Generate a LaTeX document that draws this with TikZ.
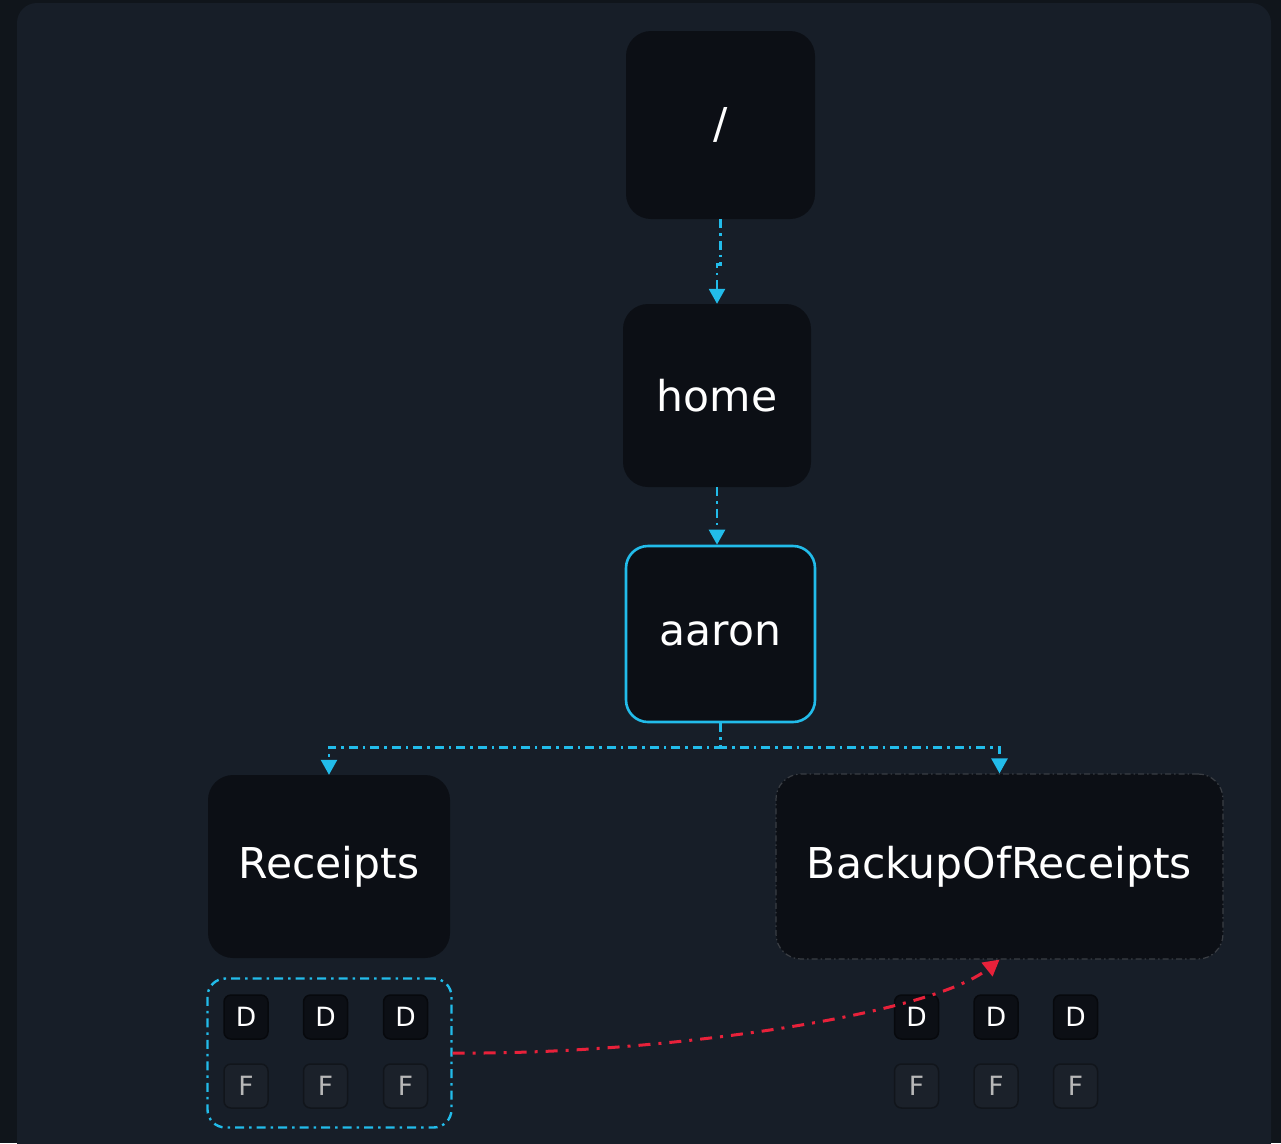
\documentclass[tikz,border=0pt]{standalone}
\usepackage{fontspec}
\setmainfont{DejaVu Sans}
\usetikzlibrary{arrows.meta,calc}
\definecolor{outerbg}{HTML}{10151B}
\definecolor{panelbg}{HTML}{171E28}
\definecolor{nodefill}{HTML}{0C0F15}
\definecolor{cyanline}{HTML}{22BCEA}
\definecolor{redline}{HTML}{E8213A}
\definecolor{ffill}{HTML}{1B212A}
\definecolor{fborder}{HTML}{11151B}
\definecolor{dborder}{HTML}{07090D}
\definecolor{ftext}{HTML}{B8B8B8}
\definecolor{grayborder}{HTML}{3A3E44}
\tikzset{
  x=1pt,y=-1pt,
  bignode/.style={fill=nodefill,draw=none,rounded corners=25pt,text=white,
    font=\fontsize{42.5}{48}\selectfont,inner sep=0pt,align=center},
  dbox/.style={fill=nodefill,draw=dborder,line width=1.5pt,rounded corners=7pt,
    minimum width=44pt,minimum height=44pt,inner sep=0pt,text=white,
    font=\fontsize{26.5}{30}\selectfont},
  fbox/.style={fill=ffill,draw=fborder,line width=1.5pt,rounded corners=7pt,
    minimum width=44pt,minimum height=44pt,inner sep=0pt,text=ftext,
    font=\fontsize{26.5}{30}\selectfont},
  cyanflow/.style={draw=cyanline,line width=2.6pt,
    dash pattern=on 9pt off 5pt on 2.5pt off 5pt,
    -{Triangle[width=16pt,length=15pt]}},
  redflow/.style={draw=redline,line width=3pt,
    dash pattern=on 12pt off 8pt on 3pt off 8pt,
    -{Triangle[width=17pt,length=16pt]}},
}
\begin{document}
\begin{tikzpicture}
\useasboundingbox (0,0) rectangle (1281,1143);
\fill[outerbg] (0,0) rectangle (1281,1143);
\fill[panelbg,rounded corners=20pt] (17,3) rectangle (1271,1163);

\node[bignode,minimum width=189pt,minimum height=188pt] (slash) at (720.5,125) {/};
\node[bignode,minimum width=188pt,minimum height=183pt] (home) at (717,395.5) {home};
\node[bignode,minimum width=189pt,minimum height=176pt,draw=cyanline,line width=2.6pt,rounded corners=22pt] (aaron) at (720.5,634) {aaron};
\node[bignode,minimum width=242pt,minimum height=183pt] (receipts) at (329,866.5) {Receipts};
\node[bignode,minimum width=447pt,minimum height=185pt,draw=grayborder,line width=1.2pt,
  dash pattern=on 6pt off 3pt on 1.5pt off 3pt] (backup) at (999.5,866.5) {BackupOfReceipts};

% children of Receipts
\node[dbox] (rd1) at (246,1017) {D};
\node[dbox] (rd2) at (325.5,1017) {D};
\node[dbox] (rd3) at (405.5,1017) {D};
\node[fbox] (rf1) at (246,1086) {F};
\node[fbox] (rf2) at (325.5,1086) {F};
\node[fbox] (rf3) at (405.5,1086) {F};
\node[draw=cyanline,line width=2.4pt,rounded corners=18pt,
  dash pattern=on 9pt off 5pt on 2.5pt off 5pt,
  minimum width=244pt,minimum height=149pt,inner sep=0pt] (group) at (329.5,1053) {};

% children of BackupOfReceipts
\node[dbox] (bd1) at (916.5,1017) {D};
\node[dbox] (bd2) at (996,1017) {D};
\node[dbox] (bd3) at (1075.5,1017) {D};
\node[fbox] (bf1) at (916.5,1086) {F};
\node[fbox] (bf2) at (996,1086) {F};
\node[fbox] (bf3) at (1075.5,1086) {F};

% connectors
\draw[cyanflow] (slash.south) -- ++(0,45) -| (home.north);
\draw[cyanflow] (home.south) -- (aaron.north -| home.south);
\coordinate (split) at ($(aaron.south)+(0,24)$);
\draw[cyanflow] (aaron.south) -- (split) -| (receipts.north);
\draw[cyanflow] (aaron.south) -- (split) -| (backup.north);
\draw[redflow] (group.east) .. controls (660,1055) and (930,1015) .. (backup.south);
\end{tikzpicture}
\end{document}
